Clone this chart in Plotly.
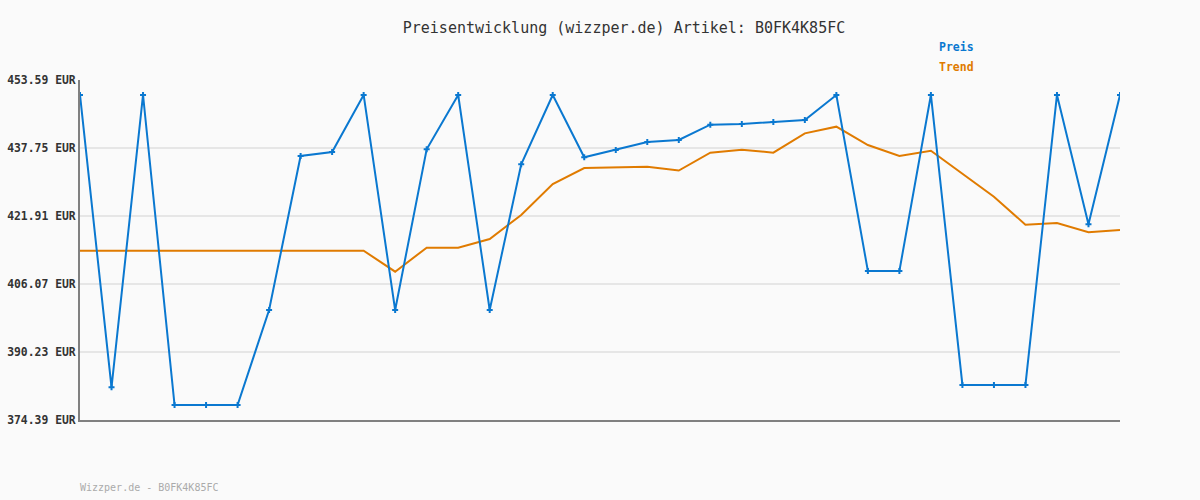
import plotly.graph_objects as go

idx = list(range(34))
preis = [450.10, 382.0, 450.10, 377.88, 377.88, 377.88, 400.01, 435.89, 436.82, 450.10,
         400.01, 437.45, 450.10, 400.01, 433.95, 450.10, 435.58, 437.28, 439.15, 439.61,
         443.18, 443.34, 443.81, 444.27, 450.10, 409.10, 409.10, 450.10, 382.55, 382.55,
         382.55, 450.10, 419.98, 450.10]
trend = [413.83, 413.83, 413.83, 413.83, 413.83, 413.83, 413.83, 413.83, 413.83, 413.83,
         408.94, 414.53, 414.53, 416.55, 422.14, 429.36, 433.09, 433.17, 433.4, 432.5,
         436.66, 437.36, 436.66, 441.17, 442.72, 438.45, 435.89, 437.12, 431.83, 426.41,
         419.89, 420.28, 418.11, 418.65]
tick_vals = [374.39, 390.23, 406.07, 421.91, 437.75, 453.59]
tick_text = [f"{v:.2f} EUR" for v in tick_vals]

BLUE = "#0a78d0"
ORANGE = "#e07b00"
MONO = "DejaVu Sans Mono"

fig = go.Figure()
fig.add_trace(go.Scatter(x=idx, y=trend, mode="lines", name="Trend",
                         line=dict(color=ORANGE, width=2)))
fig.add_trace(go.Scatter(x=idx, y=preis, mode="lines+markers", name="Preis",
                         line=dict(color=BLUE, width=2),
                         marker=dict(symbol="cross", size=5, color=BLUE)))

fig.update_layout(
    width=1200, height=500,
    margin=dict(l=80, r=80, t=80, b=80, autoexpand=False),
    paper_bgcolor="#fafafa", plot_bgcolor="#fafafa",
    showlegend=False,
    title=dict(text="Preisentwicklung (wizzper.de) Artikel: B0FK4K85FC",
               x=624 / 1200, xanchor="center", y=0.944, yanchor="middle",
               font=dict(family=MONO, size=15, color="#333333")),
    xaxis=dict(range=[0, 33], showgrid=False, zeroline=False, showticklabels=False,
               showline=True, linecolor="#808080", linewidth=2, ticks="",
               automargin=False),
    yaxis=dict(range=[374.39, 453.59], tickvals=tick_vals, ticktext=tick_text,
               showgrid=True, gridcolor="#e6e6e6", gridwidth=2, zeroline=False,
               showline=True, linecolor="#808080", linewidth=2, ticks="",
               ticklabelstandoff=0, automargin=False,
               tickfont=dict(family=MONO, size=11.4, color="#333333", weight="bold")),
    annotations=[
        dict(text="<b>Preis</b>", xref="paper", yref="paper", x=(937 - 80) / 1040,
             y=(420 - 47) / 340, xanchor="left", yanchor="middle", showarrow=False,
             font=dict(family=MONO, size=11.5, color=BLUE)),
        dict(text="<b>Trend</b>", xref="paper", yref="paper", x=(937 - 80) / 1040,
             y=(420 - 67) / 340, xanchor="left", yanchor="middle", showarrow=False,
             font=dict(family=MONO, size=11.5, color=ORANGE)),
        dict(text="Wizzper.de - B0FK4K85FC", xref="paper", yref="paper", x=-2 / 1040,
             y=-(487 - 420) / 340, xanchor="left", yanchor="middle", showarrow=False,
             font=dict(family=MONO, size=10, color="#aaaaaa")),
    ],
)

fig.write_html("out.html", config={"displayModeBar": False},
               post_script="document.body.style.margin='0';document.body.style.overflow='hidden';")
